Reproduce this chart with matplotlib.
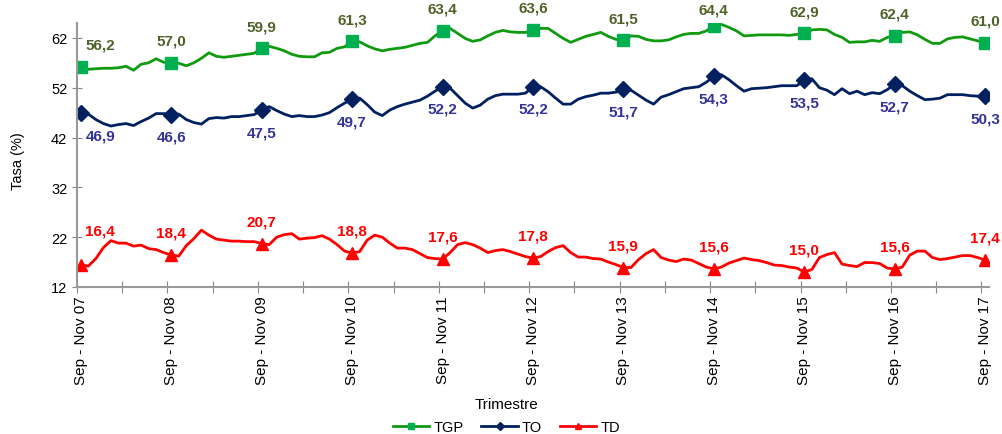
import numpy as np
import matplotlib
matplotlib.use("Agg")
import matplotlib.pyplot as plt

plt.rcParams['font.family'] = ['Liberation Sans', 'DejaVu Sans']

# rolling quarters, monthly, Sep-Nov 07 .. Sep-Nov 17
years = ['07', '08', '09', '10', '11', '12', '13', '14', '15', '16', '17']
tick_labels = ['Sep - Nov ' + y for y in years]

tgp = [56.2, 55.7, 55.8, 55.9, 55.9, 56.0, 56.3, 55.5, 56.7, 57.0, 57.8, 57.1,
       57.0, 56.9, 56.4, 57.0, 57.9, 59.0, 58.3, 58.1, 58.3, 58.5, 58.7, 58.9,
       59.9, 60.3, 59.9, 59.4, 58.7, 58.3, 58.2, 58.2, 59.0, 59.1, 59.9, 60.2,
       61.3, 61.2, 60.4, 59.8, 59.4, 59.7, 59.9, 60.1, 60.5, 60.9, 61.1, 62.4,
       63.4, 63.9, 62.9, 61.9, 61.3, 61.6, 62.4, 63.1, 63.5, 63.2, 63.1, 63.1,
       63.6, 63.9, 63.9, 62.9, 61.9, 61.1, 61.7, 62.3, 62.7, 63.1, 62.3, 61.7,
       61.5, 62.4, 62.3, 61.7, 61.4, 61.4, 61.6, 62.2, 62.7, 62.9, 62.9, 63.4,
       64.4, 64.7, 64.1, 63.4, 62.4, 62.5, 62.6, 62.6, 62.6, 62.6, 62.5, 62.7,
       62.9, 63.6, 63.7, 63.6, 62.7, 62.1, 61.1, 61.2, 61.2, 61.5, 61.3, 62.1,
       62.4, 63.1, 63.2, 62.6, 61.7, 60.9, 60.9, 61.8, 62.1, 62.2, 61.8, 61.4,
       61.0]

to = [46.9, 46.7, 45.6, 44.8, 44.3, 44.6, 44.8, 44.4, 45.2, 45.9, 46.8, 46.8,
      46.6, 46.7, 45.6, 45.0, 44.7, 45.8, 46.0, 45.9, 46.2, 46.2, 46.4, 46.6,
      47.5, 48.2, 47.4, 46.7, 46.2, 46.4, 46.2, 46.2, 46.5, 47.0, 48.0, 48.9,
      49.7, 49.9, 48.6, 47.1, 46.4, 47.5, 48.2, 48.7, 49.1, 49.5, 50.3, 51.3,
      52.2, 51.9, 50.4, 48.9, 47.9, 48.5, 49.7, 50.4, 50.7, 50.7, 50.7, 50.9,
      52.2, 52.2, 51.2, 49.9, 48.7, 48.7, 49.7, 50.2, 50.5, 50.9, 50.9, 51.1,
      51.7, 51.5, 50.5, 49.5, 48.7, 50.1, 50.6, 51.2, 51.8, 52.0, 52.2, 53.1,
      54.3, 54.6, 53.6, 52.4, 51.3, 51.8, 51.9, 52.0, 52.2, 52.4, 52.4, 52.4,
      53.5, 53.8, 52.0, 51.5, 50.6, 51.8, 50.8, 51.3, 50.6, 51.0, 50.8, 51.6,
      52.7, 52.4, 51.3, 50.4, 49.6, 49.7, 49.9, 50.6, 50.6, 50.6, 50.4, 50.3,
      50.3]

td = [16.4, 16.2, 17.7, 19.9, 21.3, 20.8, 20.8, 20.2, 20.4, 19.7, 19.5, 18.9,
      18.4, 18.2, 20.3, 21.7, 23.4, 22.4, 21.6, 21.4, 21.2, 21.2, 21.1, 21.1,
      20.7, 20.5, 22.0, 22.5, 22.7, 21.6, 21.8, 21.9, 22.3, 21.6, 20.5, 19.2,
      18.8, 19.1, 21.4, 22.4, 22.0, 20.8, 19.8, 19.8, 19.5, 18.7, 17.9, 17.7,
      17.6, 18.9, 20.5, 20.9, 20.5, 19.8, 18.9, 19.3, 19.5, 19.1, 18.6, 18.1,
      17.8, 18.1, 19.1, 19.9, 20.3, 18.9, 18.0, 18.0, 17.7, 17.6, 17.0, 16.5,
      15.9, 15.9, 17.5, 18.7, 19.5, 17.9, 17.4, 17.1, 17.6, 17.4, 16.7, 16.0,
      15.6, 16.0, 16.8, 17.3, 17.8, 17.5, 17.3, 16.9, 16.4, 16.3, 16.0, 15.8,
      15.0, 15.5, 17.9, 18.5, 18.9, 16.6, 16.3, 16.1, 16.9, 16.9, 16.7, 15.8,
      15.6, 16.0, 18.4, 19.2, 19.2, 17.9, 17.5, 17.7, 18.0, 18.3, 18.3, 17.9,
      17.4]

x = np.arange(len(tgp))

fig = plt.figure(figsize=(10.03, 4.35), dpi=100)
ax = fig.add_axes([0.0768, 0.338, 0.9092, 0.607])

ax.plot(x, tgp, color='#109A10', lw=2, marker='s', ms=9, markevery=12,
        mfc='#00B050', mec='#00B050', label='TGP')
ax.plot(x, to, color='#00205F', lw=2, marker='D', ms=8, markevery=12,
        mfc='#00205F', mec='#00205F', label='TO')
ax.plot(x, td, color='#FF0000', lw=2, marker='^', ms=9, markevery=12,
        mfc='#FF0000', mec='#FF0000', label='TD')

# data labels on the yearly points
for k in range(0, len(x), 12):
    dx = 14 if k == 0 else 0
    dy = 12 if tgp[k] > 64 else 16   # keep the top label inside the figure
    ax.annotate(f'{tgp[k]:.1f}'.replace('.', ','), (x[k], tgp[k]),
                xytext=(dx, dy), textcoords='offset points', ha='center', va='center',
                fontsize=11, fontweight='bold', color='#4F6228', annotation_clip=False)
    ax.annotate(f'{to[k]:.1f}'.replace('.', ','), (x[k], to[k]),
                xytext=(dx, -16), textcoords='offset points', ha='center', va='center',
                fontsize=11, fontweight='bold', color='#333399', annotation_clip=False)
    ax.annotate(f'{td[k]:.1f}'.replace('.', ','), (x[k], td[k]),
                xytext=(dx, 25 if k == 0 else 16), textcoords='offset points', ha='center',
                va='center', fontsize=11, fontweight='bold', color='#FF0000',
                annotation_clip=False)

ax.set_xlim(-0.5, len(x) - 0.5)
ax.set_ylim(12, 65)
ax.set_yticks([12, 22, 32, 42, 52, 62])
ax.set_xticks(np.arange(-0.5, len(x) - 1, 6))
ax.set_xticklabels([])
ax.set_xticks(np.arange(0, len(x), 12), minor=True)
ax.set_xticklabels(tick_labels, minor=True, rotation=90, fontsize=11)
ax.tick_params(axis='x', which='minor', length=0, pad=6)
ax.tick_params(axis='x', which='major', direction='inout', length=8, color='#888888')
ax.tick_params(axis='y', direction='inout', length=7, color='#888888', labelsize=10.5)

for s in ['top', 'right']:
    ax.spines[s].set_visible(False)
for s in ['left', 'bottom']:
    ax.spines[s].set_color('#999999')
    ax.spines[s].set_linewidth(1.5)

fig.text(0.018, 0.63, 'Tasa (%)', rotation=90, ha='center', va='center', fontsize=10.5)
fig.text(0.505, 0.069, 'Trimestre', ha='center', va='center', fontsize=11)
fig.legend(loc='center', bbox_to_anchor=(0.505, 0.016), ncol=3, frameon=False,
           fontsize=10.5, handlelength=2.5, columnspacing=1.2, handletextpad=0.3,
           markerscale=0.5)

fig.savefig('out.png', dpi=100)
